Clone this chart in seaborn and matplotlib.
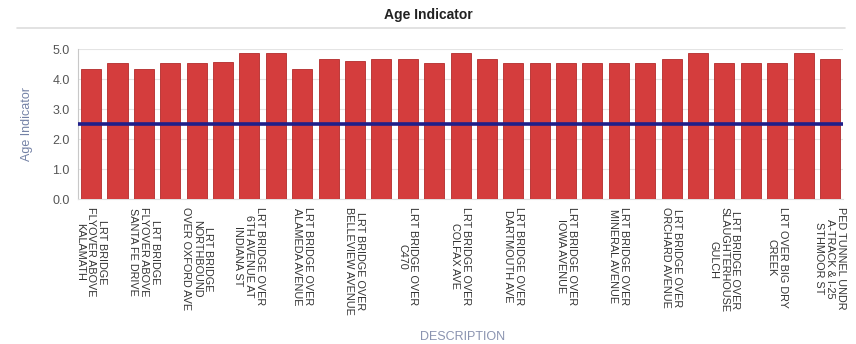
import numpy as np
import pandas as pd
import matplotlib
matplotlib.use("Agg")
import matplotlib.pyplot as plt
import seaborn as sns

# bar values, left to right (29 structures)
age_values = [4.33, 4.53, 4.33, 4.53, 4.53, 4.57, 4.87, 4.87, 4.33, 4.67,
              4.60, 4.67, 4.67, 4.53, 4.87, 4.67, 4.53, 4.53, 4.53, 4.53,
              4.53, 4.53, 4.67, 4.87, 4.53, 4.53, 4.53, 4.87, 4.67]

# only every second description is shown on the axis
shown_labels = [
    "LRT BRIDGE\nFLYOVER ABOVE\nKALAMATH",
    "LRT BRIDGE\nFLYOVER ABOVE\nSANTA FE DRIVE",
    "LRT BRIDGE\nNORTHBOUND\nOVER OXFORD AVE",
    "LRT BRIDGE OVER\n6TH AVENUE AT\nINDIANA ST",
    "LRT BRIDGE OVER\nALAMEDA AVENUE",
    "LRT BRIDGE OVER\nBELLEVIEW AVENUE",
    "LRT BRIDGE OVER\nC470",
    "LRT BRIDGE OVER\nCOLFAX AVE",
    "LRT BRIDGE OVER\nDARTMOUTH AVE",
    "LRT BRIDGE OVER\nIOWA AVENUE",
    "LRT BRIDGE OVER\nMINERAL AVENUE",
    "LRT BRIDGE OVER\nORCHARD AVENUE",
    "LRT BRIDGE OVER\nSLAUGHTERHOUSE\nGULCH",
    "LRT OVER BIG DRY\nCREEK",
    "PED TUNNEL UNDR\nA-TRACK & I-25\nSTHMOOR ST",
]

threshold = 2.5

sns.set_style("white")
plt.rcParams["font.family"] = ["Liberation Sans", "DejaVu Sans"]

df = pd.DataFrame({"idx": np.arange(len(age_values)), "age": age_values})

fig = plt.figure(figsize=(8.56, 3.44), dpi=100)
ax = fig.add_axes([0.091, 0.4215, 0.894, 0.436])

sns.barplot(data=df, x="idx", y="age", color="#d43d3d", saturation=1,
            width=0.76, edgecolor="#b32b2b", linewidth=0.6, ax=ax, zorder=3)

ax.axhline(threshold, color="#1f1f8a", linewidth=2.6, zorder=4)

ax.set_ylim(0, 5)
ax.set_xlim(-0.5, len(age_values) - 0.5)
ax.set_yticks(np.arange(0, 5.1, 1.0))
ax.set_yticklabels([f"{v:.1f}" for v in np.arange(0, 5.1, 1.0)],
                   fontsize=9, color="#555555")
ax.yaxis.grid(True, color="#e4e4e4", linewidth=0.8, zorder=0)
ax.set_axisbelow(True)

ax.set_xticks(np.arange(0, len(age_values), 2))
ax.set_xticklabels(shown_labels, rotation=270, fontsize=7.8, color="#333333",
                   va="top", ha="center", linespacing=1.12)
ax.tick_params(axis="x", length=0, pad=6)
ax.tick_params(axis="y", length=0, pad=6)

ax.set_xlabel("")
ax.set_ylabel("Age Indicator", fontsize=9, color="#7482a6", labelpad=14)

for side in ["top", "right"]:
    ax.spines[side].set_visible(False)
ax.spines["left"].set_color("#c8c8c8")
ax.spines["bottom"].set_color("#e0e0e0")

fig.text(0.5, 0.955, "Age Indicator", ha="center", va="center",
         fontsize=10, fontweight="bold", color="#222222")
fig.add_artist(plt.Line2D([0.02, 0.987], [0.92, 0.92], color="#dddddd",
                          linewidth=1.2, transform=fig.transFigure))
fig.text(0.54, 0.004, "DESCRIPTION", ha="center", va="bottom",
         fontsize=9, color="#8a93b0")

fig.savefig("out.png", dpi=100)
